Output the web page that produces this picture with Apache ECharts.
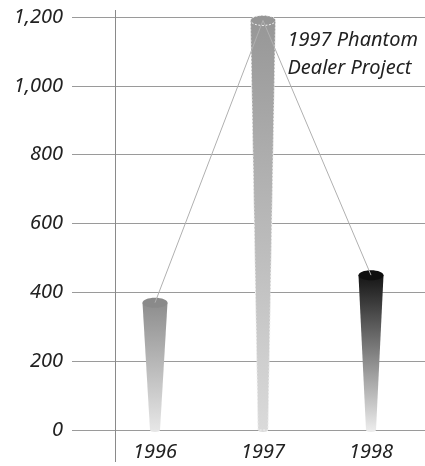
<!DOCTYPE html>
<html><head><meta charset="utf-8">
<script src="https://cdn.jsdelivr.net/npm/echarts@6/dist/echarts.min.js"></script>
<style>html,body{margin:0;padding:0;background:#fff}#c{width:425px;height:466px}</style>
</head><body><div id="c"></div>
<script>
const categories = ['1996', '1997', '1998'];
const values = [370, 1190, 450];
const yTicks = { min: 0, max: 1200, interval: 200 };
const annotation = ['1997 Phantom', 'Dealer Project'];

const barStyles = [
  { top: '#8a8a8a', bottom: '#e6e6e6', dashed: false },
  { top: '#969696', bottom: '#dadada', dashed: true },
  { top: '#0e0e0e', bottom: '#ebebeb', dashed: false }
];
const FONT = 'Noto Sans';
const chart = echarts.init(document.getElementById('c'));
chart.setOption({
  animation: false,
  grid: [
    { left: 72, right: 0, top: 17, bottom: 36 },
    { left: 101, right: 0, top: 17, bottom: 36 }
  ],
  xAxis: [
    { gridIndex: 0, type: 'category', data: categories, show: false },
    { gridIndex: 1, type: 'category', data: categories,
      axisLine: { show: false }, axisTick: { show: false },
      axisLabel: { margin: 12, fontFamily: FONT, fontStyle: 'italic', fontSize: 20, color: '#222' } }
  ],
  yAxis: [
    { gridIndex: 0, type: 'value', min: yTicks.min, max: yTicks.max, interval: yTicks.interval,
      axisLine: { show: false }, axisTick: { show: false },
      axisLabel: { margin: 9, fontFamily: FONT, fontStyle: 'italic', fontSize: 20, color: '#222',
        formatter: v => v.toLocaleString('en-US') },
      splitLine: { lineStyle: { color: '#9a9a9a', width: 1 } } },
    { gridIndex: 1, type: 'value', min: yTicks.min, max: yTicks.max, interval: yTicks.interval, show: false,
      splitLine: { show: false } }
  ],
  graphic: [
    { type: 'line', shape: { x1: 115.5, y1: 10, x2: 115.5, y2: 462 }, style: { stroke: '#8a8a8a', lineWidth: 1 }, z: 1 },
    { type: 'text', right: 7, top: 26, style: { text: annotation.join('\n'), align: 'right', font: 'italic 20px "Noto Sans"', fill: '#222', lineHeight: 28 }, z: 10 }
  ],
  series: [
    {
      type: 'custom', xAxisIndex: 1, yAxisIndex: 1, z: 2,
      data: values.map((v, i) => [i, v]),
      renderItem: (params, api) => {
        const i = api.value(0);
        const top = api.coord([i, api.value(1)]);
        const bot = api.coord([i, 0]);
        const x = top[0];
        const st = barStyles[params.dataIndex];
        const tw = 12.5, bw = 5;
        const grad = new echarts.graphic.LinearGradient(0, top[1] - 5, 0, bot[1], [
          { offset: 0, color: st.top }, { offset: 1, color: st.bottom }
        ], true);
        const stroke = st.dashed ? { stroke: '#f0f0f0', lineWidth: 1, lineDash: [2, 1.5] } : { stroke: null };
        return {
          type: 'group',
          children: [
            { type: 'ellipse', shape: { cx: x, cy: bot[1], rx: bw, ry: 2 }, style: { fill: st.bottom } },
            { type: 'polygon', shape: { points: [[x - tw, top[1]], [x + tw, top[1]], [x + bw, bot[1]], [x - bw, bot[1]]] },
              style: Object.assign({ fill: grad }, stroke) },
            { type: 'ellipse', shape: { cx: x, cy: top[1], rx: tw, ry: 5 }, style: Object.assign({ fill: st.top }, stroke) }
          ]
        };
      }
    },
    {
      type: 'line', xAxisIndex: 1, yAxisIndex: 1, z: 5, data: values,
      symbol: 'none', lineStyle: { color: '#b0b0b0', width: 1 }
    }
  ]
});
</script></body></html>
